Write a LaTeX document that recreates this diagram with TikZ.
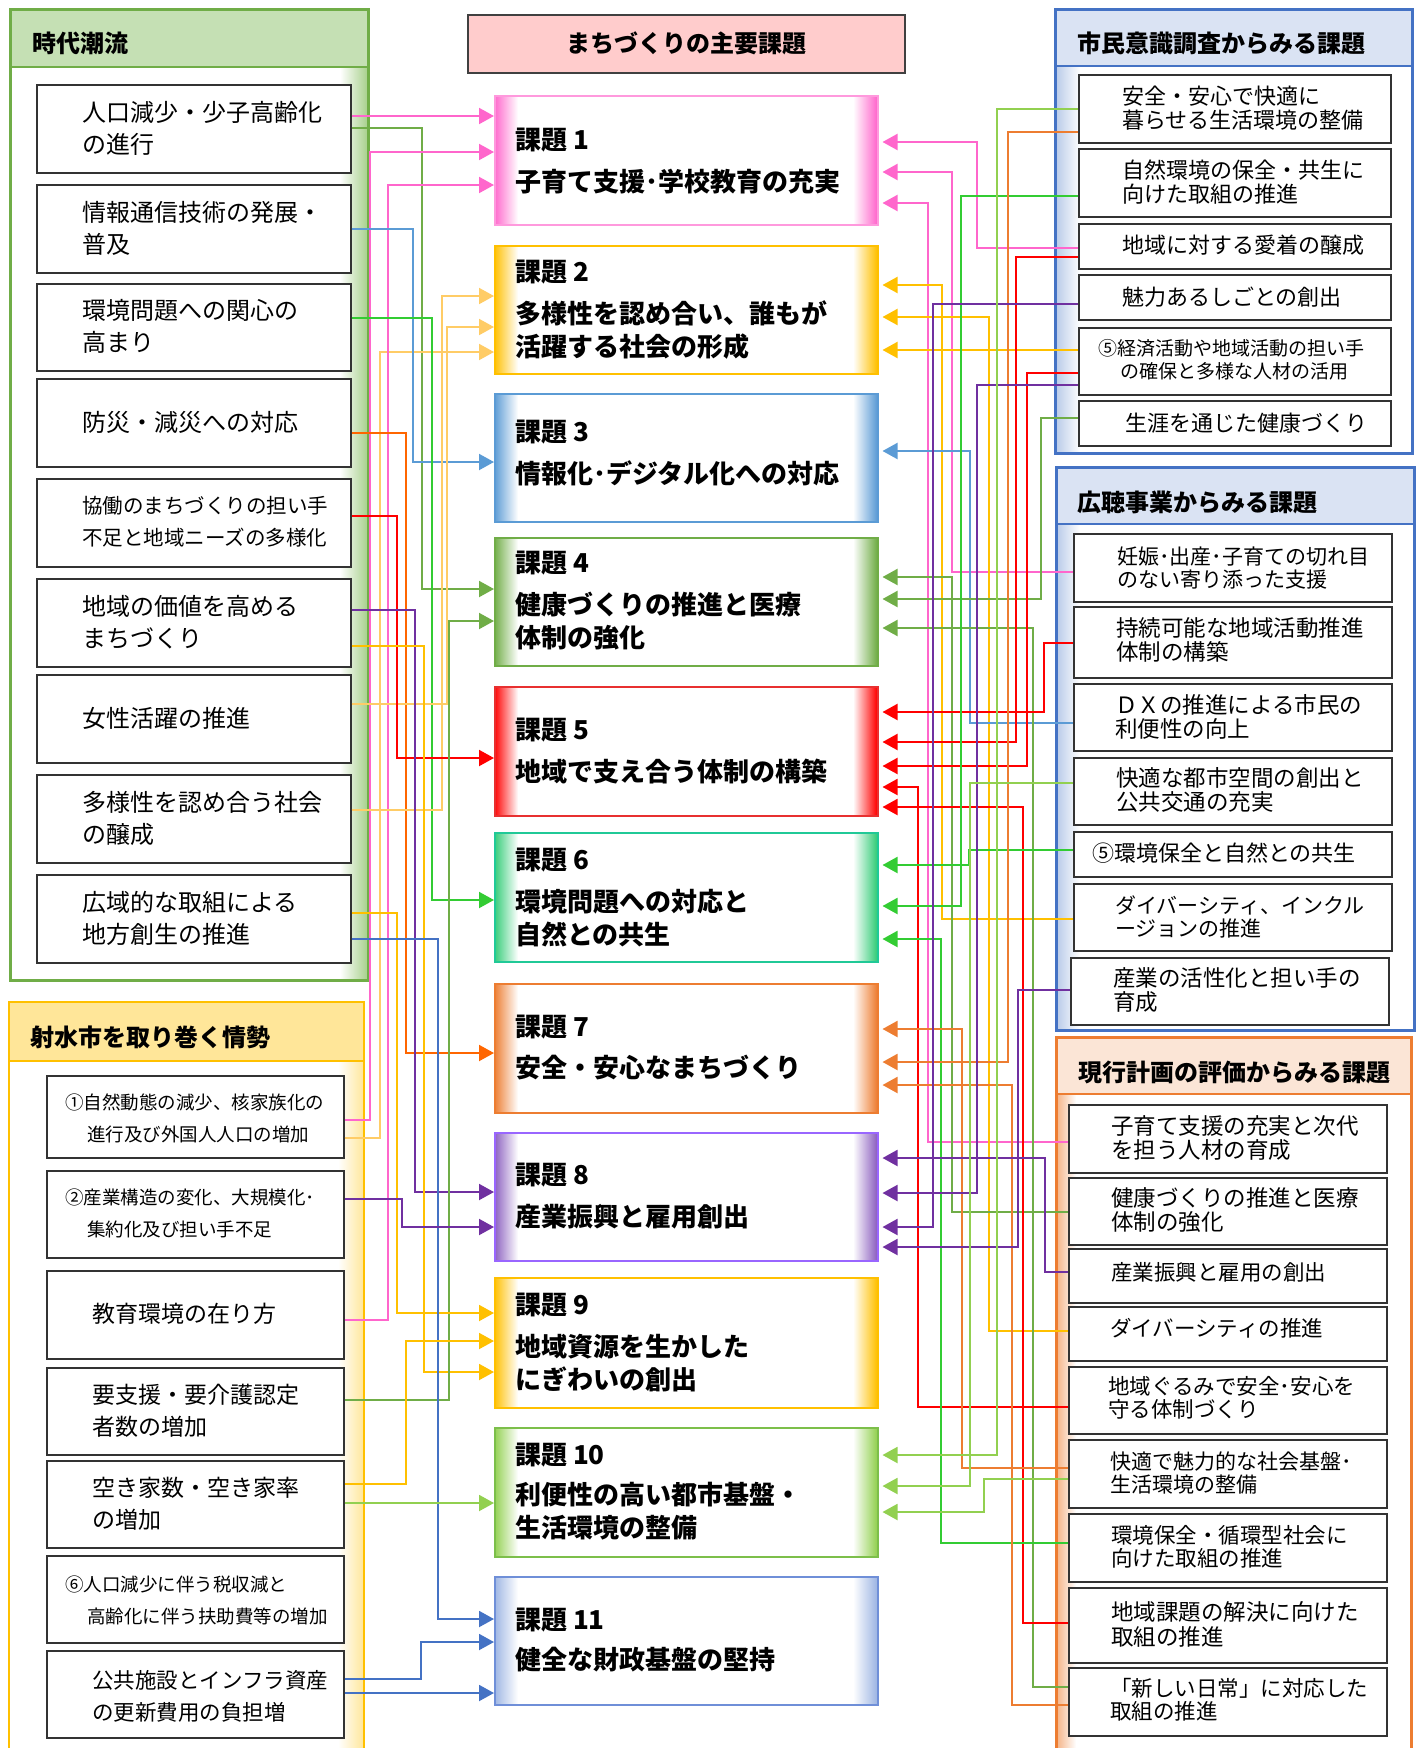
\documentclass[tikz,border=0pt]{standalone}
\usepackage{fontspec}
\setmainfont{Noto Sans CJK JP}
\usetikzlibrary{arrows.meta}
\definecolor{pk}{HTML}{FF66CC}
\definecolor{yl}{HTML}{FFC000}
\definecolor{ylt}{HTML}{FFCC66}
\definecolor{bla}{HTML}{5B9BD5}
\definecolor{blb}{HTML}{4472C4}
\definecolor{gra}{HTML}{70AD47}
\definecolor{grb}{HTML}{33CC33}
\definecolor{grc}{HTML}{92D050}
\definecolor{rd}{HTML}{FF0000}
\definecolor{ora}{HTML}{ED7D31}
\definecolor{orb}{HTML}{FF6600}
\definecolor{pu}{HTML}{7030A0}
\definecolor{hG}{HTML}{C5E0B4}
\definecolor{gG}{HTML}{A9D18E}
\definecolor{hY}{HTML}{FFE699}
\definecolor{hB}{HTML}{DAE3F3}
\definecolor{bG}{HTML}{B4C7E7}
\definecolor{hO}{HTML}{FBE5D6}
\definecolor{oG}{HTML}{F4B183}
\definecolor{tP}{HTML}{FFCCCC}
\definecolor{kpkb}{HTML}{FF99DD}
\definecolor{ksix}{HTML}{33CC77}
\definecolor{ksixb}{HTML}{20C997}
\definecolor{keight}{HTML}{8B5FBF}
\definecolor{keightb}{HTML}{9966FF}
\definecolor{ktenb}{HTML}{7CBF4A}
\definecolor{kel}{HTML}{9DB5E3}
\definecolor{kelb}{HTML}{6F8FD8}
\definecolor{kfiveb}{HTML}{E83030}
\tikzset{
  cn/.style={line width=2pt,-{Triangle[length=15pt,width=16pt]}},
  cnr/.style={cn, shorten >=4pt},
  lbox/.style={draw=black!80, line width=1.5pt, fill=white, inner sep=0pt},
  lt/.style={anchor=west, align=left, inner sep=0pt, font=\fontsize{#1}{32}\selectfont},
  rt/.style={anchor=west, align=left, inner sep=0pt, font=\fontsize{#1}{23.5}\selectfont},
  kt/.style={anchor=west, align=left, inner sep=0pt, font=\bfseries\fontsize{26}{33.5}\selectfont},
  ht/.style={anchor=west, inner sep=0pt, font=\bfseries\fontsize{24}{28}\selectfont}
}
\newcommand\GBox[6]{%
  \pgfmathsetmacro\gbw{#4-#2}\pgfmathsetmacro\gbh{#5-#3}%
  \node[#6, minimum width=\gbw pt, minimum height=\gbh pt, anchor=north west] (#1) at (#2,#3) {};}
\newcommand\KBox[5]{%
  \fill[white] (494,#2) rectangle (877,#3);
  \shade[left color=#4, right color=white] (494,#2) rectangle (518,#3);
  \shade[left color=white, right color=#4] (853,#2) rectangle (877,#3);
  \GBox{#1}{494}{#2}{877}{#3}{draw=#5, line width=1.5pt, inner sep=0pt}}
\begin{document}
\begin{tikzpicture}[x=1pt,y=-1pt]
\useasboundingbox (0,0) rectangle (1417,1748);
\clip (0,0) rectangle (1417,1748);
% ---------- panels ----------
% left green panel
\fill[white] (9,8) rectangle (367,979);
\fill[hG] (9,8) rectangle (367,67);
\shade[left color=white, right color=gG] (340,67) rectangle (367,979);
\GBox{PG}{9}{8}{367}{979}{draw=gra, line width=3pt, inner sep=0pt}
\draw[gra, line width=2.5pt] (PG.west |- 0,67) -- (PG.east |- 0,67);
\node[ht] (PGt) at (32,43) {時代潮流};
% yellow panel
\fill[hY] (9,1002) rectangle (364,1061);
\shade[left color=white, right color=hY] (338,1061) rectangle (364,1760);
\draw[yl, line width=2.5pt] (9,1760) |- (364,1002) -- (364,1760);
\draw[yl, line width=2pt] (9,1061) -- (364,1061);
\node[ht] (PYt) at (30,1037) {射水市を取り巻く情勢};
% blue panel 1
\fill[hB] (1054,8) rectangle (1411,66);
\shade[left color=bG, right color=white] (1054,66) rectangle (1080,452);
\GBox{PB1}{1054}{8}{1411}{452}{draw=blb, line width=3pt, inner sep=0pt}
\draw[blb, line width=2.5pt] (PB1.west |- 0,66) -- (PB1.east |- 0,66);
\node[ht] (PB1t) at (1077,43) {市民意識調査からみる課題};
% blue panel 2
\fill[hB] (1055,466) rectangle (1413,524);
\shade[left color=bG, right color=white] (1055,524) rectangle (1080,1029);
\GBox{PB2}{1055}{466}{1413}{1029}{draw=blb, line width=3pt, inner sep=0pt}
\draw[blb, line width=2.5pt] (PB2.west |- 0,524) -- (PB2.east |- 0,524);
\node[ht] (PB2t) at (1077,502) {広聴事業からみる課題};
% orange panel
\fill[hO] (1056,1037) rectangle (1411,1094);
\shade[left color=oG, right color=white] (1056,1094) rectangle (1076,1760);
\draw[ora, line width=3pt] (1056,1760) |- (1411,1037) -- (1411,1760);
\draw[ora, line width=2.5pt] (1056,1094) -- (1411,1094);
\node[ht] (POt) at (1078,1072) {現行計画の評価からみる課題};
% title
\node[draw=black!75, fill=tP, line width=1.5pt, minimum width=437pt, minimum height=58pt,
      anchor=north west, font=\bfseries\fontsize{24}{28}\selectfont] (TT) at (467,14) {まちづくりの主要課題};
% ---------- left boxes ----------
\GBox{L1}{36}{84}{350}{172}{lbox}
\GBox{L2}{36}{184}{350}{272}{lbox}
\GBox{L3}{36}{283}{350}{370}{lbox}
\GBox{L4}{36}{378}{350}{466}{lbox}
\GBox{L5}{36}{478}{350}{566}{lbox}
\GBox{L6}{36}{578}{350}{666}{lbox}
\GBox{L7}{36}{674}{350}{762}{lbox}
\GBox{L8}{36}{774}{350}{862}{lbox}
\GBox{L9}{36}{874}{350}{962}{lbox}
\node[lt=24] (L1t) at (82,128) {人口減少・少子高齢化\\の進行};
\node[lt=24] (L2t) at (82,228) {情報通信技術の発展・\\普及};
\node[lt=24] (L3t) at (82,326) {環境問題への関心の\\高まり};
\node[lt=24] (L4t) at (82,422) {防災・減災への対応};
\node[lt=20.5] (L5t) at (82,522) {協働のまちづくりの担い手\\不足と地域ニーズの多様化};
\node[lt=24] (L6t) at (82,622) {地域の価値を高める\\まちづくり};
\node[lt=24] (L7t) at (82,718) {女性活躍の推進};
\node[lt=24] (L8t) at (82,818) {多様性を認め合う社会\\の醸成};
\node[lt=24] (L9t) at (82,918) {広域的な取組による\\地方創生の推進};
% ---------- yellow boxes ----------
\GBox{Y1}{46}{1075}{343}{1157}{lbox}
\GBox{Y2}{46}{1170}{343}{1257}{lbox}
\GBox{Y3}{46}{1270}{343}{1358}{lbox}
\GBox{Y4}{46}{1367}{343}{1454}{lbox}
\GBox{Y5}{46}{1460}{343}{1547}{lbox}
\GBox{Y6}{46}{1555}{343}{1642}{lbox}
\GBox{Y7}{46}{1650}{343}{1737}{lbox}
\node[lt=18.5] (Y1t) at (65,1118) {①自然動態の減少、核家族化の\\\hspace*{22pt}進行及び外国人人口の増加};
\node[lt=18.5] (Y2t) at (65,1213) {②産業構造の変化、大規模化･\\\hspace*{22pt}集約化及び担い手不足};
\node[lt=23] (Y3t) at (92,1314) {教育環境の在り方};
\node[lt=23] (Y4t) at (92,1411) {要支援・要介護認定\\者数の増加};
\node[lt=23] (Y5t) at (92,1504) {空き家数・空き家率\\の増加};
\node[lt=18.5] (Y6t) at (65,1600) {⑥人口減少に伴う税収減と\\\hspace*{22pt}高齢化に伴う扶助費等の増加};
\node[lt=21.5] (Y7t) at (92,1696) {公共施設とインフラ資産\\の更新費用の負担増};
% ---------- right boxes A ----------
\GBox{A1}{1078}{74}{1390}{142}{lbox}
\GBox{A2}{1078}{148}{1390}{216}{lbox}
\GBox{A3}{1078}{223}{1390}{268}{lbox}
\GBox{A4}{1078}{274}{1390}{319}{lbox}
\GBox{A5}{1078}{327}{1390}{394}{lbox}
\GBox{A6}{1078}{400}{1390}{445}{lbox}
\node[rt=22] (A1t) at (1122,108) {安全・安心で快適に\\暮らせる生活環境の整備};
\node[rt=22] (A2t) at (1122,182) {自然環境の保全・共生に\\向けた取組の推進};
\node[rt=22] (A3t) at (1122,245) {地域に対する愛着の醸成};
\node[rt=22] (A4t) at (1122,297) {魅力あるしごとの創出};
\node[rt=19] (A5t) at (1098,360) {⑤経済活動や地域活動の担い手\\\hspace*{22pt}の確保と多様な人材の活用};
\node[rt=22] (A6t) at (1125,423) {生涯を通じた健康づくり};
% ---------- right boxes B ----------
\GBox{B1}{1073}{533}{1391}{601}{lbox}
\GBox{B2}{1073}{606}{1391}{677}{lbox}
\GBox{B3}{1073}{683}{1391}{750}{lbox}
\GBox{B4}{1073}{757}{1391}{824}{lbox}
\GBox{B5}{1073}{831}{1391}{876}{lbox}
\GBox{B6}{1073}{883}{1391}{950}{lbox}
\GBox{B7}{1070}{957}{1388}{1024}{lbox}
\node[rt=21] (B1t) at (1117,568) {妊娠･出産･子育ての切れ目\\のない寄り添った支援};
\node[rt=22.5] (B2t) at (1116,640) {持続可能な地域活動推進\\体制の構築};
\node[rt=22.5] (B3t) at (1115,717) {ＤＸの推進による市民の\\利便性の向上};
\node[rt=22.5] (B4t) at (1116,790) {快適な都市空間の創出と\\公共交通の充実};
\node[rt=22] (B5t) at (1092,853) {⑤環境保全と自然との共生};
\node[rt=21] (B6t) at (1115,917) {ダイバーシティ、インクル\\ージョンの推進};
\node[rt=22.5] (B7t) at (1113,990) {産業の活性化と担い手の\\育成};
% ---------- right boxes C ----------
\GBox{C1}{1068}{1104}{1386}{1172}{lbox}
\GBox{C2}{1068}{1177}{1386}{1244}{lbox}
\GBox{C3}{1068}{1248}{1386}{1302}{lbox}
\GBox{C4}{1068}{1306}{1386}{1360}{lbox}
\GBox{C5}{1068}{1366}{1386}{1433}{lbox}
\GBox{C6}{1068}{1439}{1386}{1507}{lbox}
\GBox{C7}{1068}{1513}{1386}{1581}{lbox}
\GBox{C8}{1068}{1587}{1386}{1662}{lbox}
\GBox{C9}{1068}{1667}{1386}{1735}{lbox}
\node[rt=22.5] (C1t) at (1111,1138) {子育て支援の充実と次代\\を担う人材の育成};
\node[rt=22.5] (C2t) at (1111,1210) {健康づくりの推進と医療\\体制の強化};
\node[rt=21.5] (C3t) at (1111,1272) {産業振興と雇用の創出};
\node[rt=21.5] (C4t) at (1110,1328) {ダイバーシティの推進};
\node[rt=21.5] (C5t) at (1108,1398) {地域ぐるみで安全･安心を\\守る体制づくり};
\node[rt=21] (C6t) at (1110,1473) {快適で魅力的な社会基盤･\\生活環境の整備};
\node[rt=21.5] (C7t) at (1111,1547) {環境保全・循環型社会に\\向けた取組の推進};
\node[rt=22.5, font=\fontsize{22.5}{25}\selectfont] (C8t) at (1111,1624) {地域課題の解決に向けた\\取組の推進};
\node[rt=21.5] (C9t) at (1110,1700) {「新しい日常」に対応した\\取組の推進};
% ---------- central boxes ----------
\KBox{K1}{95}{224}{pk}{kpkb}
\KBox{K2}{245}{373}{yl}{yl}
\KBox{K3}{393}{521}{bla}{bla}
\KBox{K4}{537}{665}{gra}{gra}
\KBox{K5}{686}{815}{rd}{kfiveb}
\KBox{K6}{832}{961}{ksix}{ksixb}
\KBox{K7}{983}{1112}{ora}{ora}
\KBox{K8}{1132}{1260}{keight}{keightb}
\KBox{K9}{1277}{1407}{yl}{yl}
\KBox{K10}{1427}{1556}{grc}{ktenb}
\KBox{K11}{1576}{1704}{kel}{kelb}
\node[kt] (K1a) at (515,140) {課題 1};
\node[kt] (K1b) at (515,182) {子育て支援･学校教育の充実};
\node[kt] (K2a) at (515,272) {課題 2};
\node[kt] (K2b) at (515,330) {多様性を認め合い、誰もが\\活躍する社会の形成};
\node[kt] (K3a) at (515,432) {課題 3};
\node[kt] (K3b) at (515,473) {情報化･デジタル化への対応};
\node[kt] (K4a) at (515,563) {課題 4};
\node[kt] (K4b) at (515,621) {健康づくりの推進と医療\\体制の強化};
\node[kt] (K5a) at (515,730) {課題 5};
\node[kt] (K5b) at (515,772) {地域で支え合う体制の構築};
\node[kt] (K6a) at (515,860) {課題 6};
\node[kt] (K6b) at (515,918) {環境問題への対応と\\自然との共生};
\node[kt] (K7a) at (515,1027) {課題 7};
\node[kt] (K7b) at (515,1068) {安全・安心なまちづくり};
\node[kt] (K8a) at (515,1175) {課題 8};
\node[kt] (K8b) at (515,1217) {産業振興と雇用創出};
\node[kt] (K9a) at (515,1305) {課題 9};
\node[kt] (K9b) at (515,1363) {地域資源を生かした\\にぎわいの創出};
\node[kt] (K10a) at (515,1455) {課題 10};
\node[kt] (K10b) at (515,1511) {利便性の高い都市基盤・\\生活環境の整備};
\node[kt] (K11a) at (515,1620) {課題 11};
\node[kt] (K11b) at (515,1660) {健全な財政基盤の堅持};
% ---------- left connectors ----------
\draw[cn,color=pk] (L1.east |- 0,116) -- (K1.west |- 0,116);
\draw[cn,color=gra] (L1.east |- 0,128) -- (422,128) |- (K4.west |- 0,589);
\draw[cn,color=pk] (Y1.east |- 0,1120) -- (370,1120) |- (K1.west |- 0,152);
\draw[cn,color=ylt] (Y1.east |- 0,1138) -- (380,1138) |- (K2.west |- 0,352);
\draw[cn,color=pk] (Y3.east |- 0,1320) -- (388,1320) |- (K1.west |- 0,185);
\draw[cn,color=bla] (L2.east |- 0,229) -- (413,229) |- (K3.west |- 0,462);
\draw[cn,color=grb] (L3.east |- 0,318) -- (432,318) |- (K6.west |- 0,900);
\draw[cn,color=orb] (L4.east |- 0,433) -- (406,433) |- (K7.west |- 0,1053);
\draw[cn,color=ylt] (L8.east |- 0,810) -- (442,810) |- (K2.west |- 0,296);
\draw[cn,color=ylt] (L7.east |- 0,704) -- (447,704) |- (K2.west |- 0,327);
\draw[cn,color=rd] (L5.east |- 0,516) -- (397,516) |- (K5.west |- 0,758);
\draw[cn,color=pu] (L6.east |- 0,610) -- (415,610) |- (K8.west |- 0,1192);
\draw[cn,color=yl] (L6.east |- 0,646) -- (424,646) |- (K9.west |- 0,1372);
\draw[cn,color=gra] (Y4.east |- 0,1400) -- (449,1400) |- (K4.west |- 0,621);
\draw[cn,color=yl] (L9.east |- 0,913) -- (397,913) |- (K9.west |- 0,1313);
\draw[cn,color=blb] (L9.east |- 0,939) -- (438,939) |- (K11.west |- 0,1619);
\draw[cn,color=pu] (Y2.east |- 0,1199) -- (402,1199) |- (K8.west |- 0,1227);
\draw[cn,color=yl] (Y5.east |- 0,1484) -- (406,1484) |- (K9.west |- 0,1341);
\draw[cn,color=grc] (Y5.east |- 0,1503) -- (K10.west |- 0,1503);
\draw[cn,color=blb] (Y7.east |- 0,1679) -- (421,1679) |- (K11.west |- 0,1642);
\draw[cn,color=blb] (Y7.east |- 0,1693) -- (K11.west |- 0,1693);
% ---------- right connectors ----------
\draw[cnr,color=pk] (A3.west |- 0,248) -- (977,248) |- (K1.east |- 0,142);
\draw[cnr,color=pk] (B1.west |- 0,572) -- (952,572) |- (K1.east |- 0,172);
\draw[cnr,color=pk] (C1.west |- 0,1142) -- (928,1142) |- (K1.east |- 0,203);
\draw[cnr,color=yl] (B6.west |- 0,919) -- (942,919) |- (K2.east |- 0,285);
\draw[cnr,color=yl] (C4.west |- 0,1331) -- (989,1331) |- (K2.east |- 0,317);
\draw[cnr,color=yl] (A5.west |- 0,350) -- (K2.east |- 0,350);
\draw[cnr,color=bla] (B3.west |- 0,723) -- (970,723) |- (K3.east |- 0,451);
\draw[cnr,color=gra] (C2.west |- 0,1212) -- (952,1212) |- (K4.east |- 0,577);
\draw[cnr,color=gra] (A6.west |- 0,418) -- (1041,418) |- (K4.east |- 0,599);
\draw[cnr,color=gra] (C9.west |- 0,1687) -- (1033,1687) |- (K4.east |- 0,628);
\draw[cnr,color=rd] (B2.west |- 0,643) -- (1044,643) |- (K5.east |- 0,712);
\draw[cnr,color=rd] (A3.west |- 0,257) -- (1016,257) |- (K5.east |- 0,742);
\draw[cnr,color=rd] (A5.west |- 0,373) -- (1027,373) |- (K5.east |- 0,766);
\draw[cnr,color=rd] (C5.west |- 0,1407) -- (918,1407) |- (K5.east |- 0,787);
\draw[cnr,color=rd] (C8.west |- 0,1623) -- (1023,1623) |- (K5.east |- 0,807);
\draw[cnr,color=grb] (B5.west |- 0,850) -- (969,850) |- (K6.east |- 0,865);
\draw[cnr,color=grb] (A2.west |- 0,196) -- (961,196) |- (K6.east |- 0,906);
\draw[cnr,color=grb] (C7.west |- 0,1543) -- (941,1543) |- (K6.east |- 0,939);
\draw[cnr,color=ora] (C6.west |- 0,1468) -- (962,1468) |- (K7.east |- 0,1029);
\draw[cnr,color=ora] (A1.west |- 0,132) -- (1008,132) |- (K7.east |- 0,1062);
\draw[cnr,color=ora] (C9.west |- 0,1705) -- (1012,1705) |- (K7.east |- 0,1085);
\draw[cnr,color=pu] (C3.west |- 0,1272) -- (1045,1272) |- (K8.east |- 0,1158);
\draw[cnr,color=pu] (A5.west |- 0,385) -- (977,385) |- (K8.east |- 0,1193);
\draw[cnr,color=pu] (A4.west |- 0,304) -- (933,304) |- (K8.east |- 0,1227);
\draw[cnr,color=pu] (B7.west |- 0,990) -- (1018,990) |- (K8.east |- 0,1247);
\draw[cnr,color=grc] (A1.west |- 0,109) -- (997,109) |- (K10.east |- 0,1455);
\draw[cnr,color=grc] (B4.west |- 0,783) -- (970,783) |- (K10.east |- 0,1486);
\draw[cnr,color=grc] (C6.west |- 0,1479) -- (984,1479) |- (K10.east |- 0,1512);
\end{tikzpicture}
\end{document}
